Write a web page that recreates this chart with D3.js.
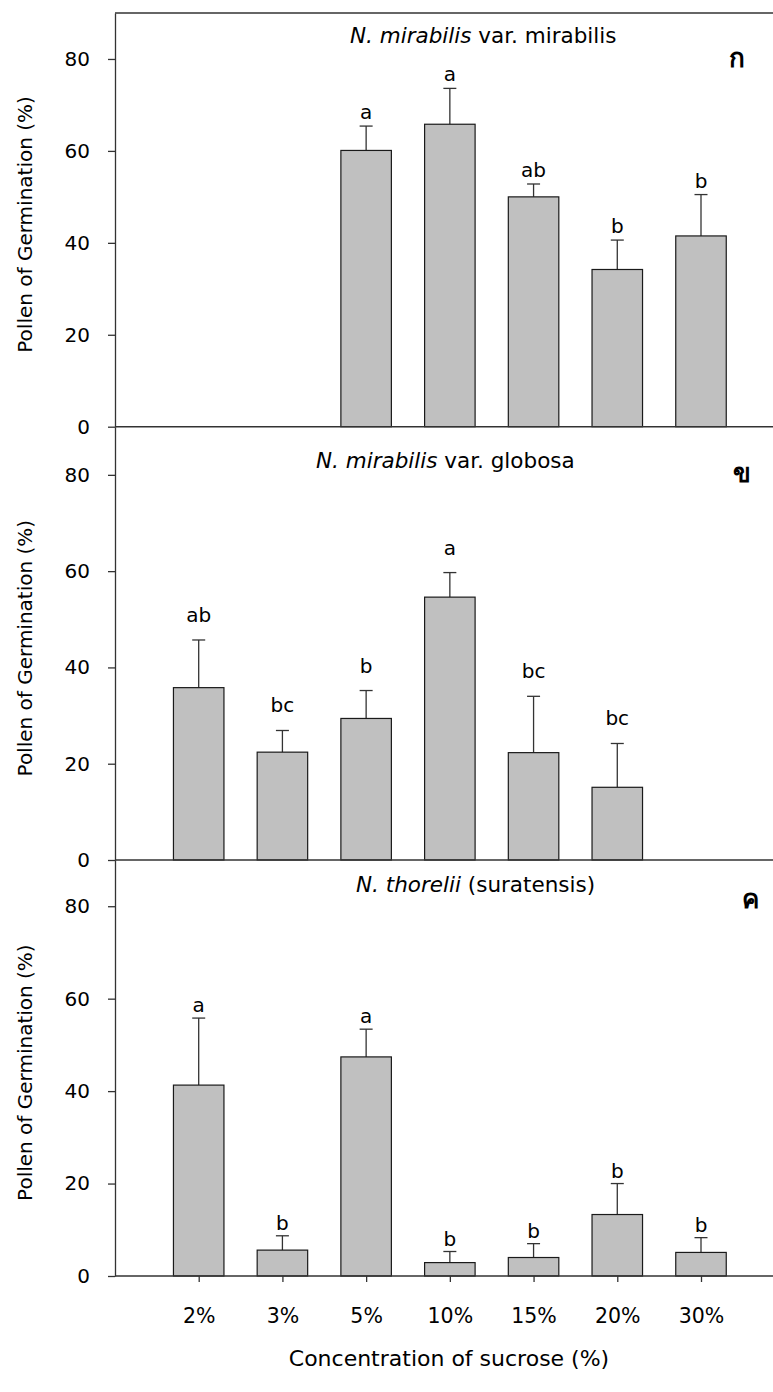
<!DOCTYPE html>
<html>
<head>
<meta charset="utf-8">
<script src="https://cdn.jsdelivr.net/npm/d3@7"></script>
<style>
    body { margin: 0; background: #fff; }
    text { font-family: "DejaVu Sans", Verdana, sans-serif; fill: #000; }
    .axis path, .axis line { stroke: #333; stroke-width: 1.3; }
    .bar { fill: #c0c0c0; stroke: #1a1a1a; stroke-width: 1.2; }
    .err { stroke: #333; stroke-width: 1.3; }
</style>
</head>
<body>
<div id="chart"></div>
<script>
// sucrose concentrations on the x axis
var categories = ["2%", "3%", "5%", "10%", "15%", "20%", "30%"];
var yTicks = [0, 20, 40, 60, 80];

// N. mirabilis var. mirabilis (no germination data for 2% and 3%)
var mirabilisMean = [null, null, 60.1, 65.8, 50.0, 34.2, 41.5];
var mirabilisErr = [null, null, 5.3, 7.8, 2.8, 6.4, 9.0];
var mirabilisLetters = ["", "", "a", "a", "ab", "b", "b"];

// N. mirabilis var. globosa (no data for 30%)
var globosaMean = [35.8, 22.4, 29.4, 54.6, 22.3, 15.1, null];
var globosaErr = [9.9, 4.5, 5.8, 5.1, 11.7, 9.1, null];
var globosaLetters = ["ab", "bc", "b", "a", "bc", "bc", ""];

// N. thorelii (suratensis)
var thoreliiMean = [41.3, 5.6, 47.4, 2.9, 4.0, 13.3, 5.1];
var thoreliiErr = [14.5, 3.1, 6.0, 2.4, 3.0, 6.7, 3.2];
var thoreliiLetters = ["a", "b", "a", "b", "b", "b", "b"];

var panelTitles = [
    {italic: "N. mirabilis", rest: " var. mirabilis", mark: "ก"},
    {italic: "N. mirabilis", rest: " var. globosa", mark: "ข"},
    {italic: "N. thorelii", rest: " (suratensis)", mark: "ค"}
];

var w = 773;
var h = 1392;
var left = 115;
// vertical extent of each panel
var panelTop = [13, 426.7, 860];
var panelBottom = [426.7, 860, 1276];
var titleX = [350, 316, 356];
var titleY = [43, 468, 892];
var markX = [737, 742, 750];
var markY = [67, 482, 908];
var letterGap = [7, 18, 6];

var svg = d3.select("#chart").append("svg").attr("width", w).attr("height", h);

var xScale = d3.scalePoint().domain(categories).range([198.7, 701]);
var barWidth = 50.5;
var capWidth = 13;

var panels = [
    {mean: mirabilisMean, err: mirabilisErr, letters: mirabilisLetters},
    {mean: globosaMean, err: globosaErr, letters: globosaLetters},
    {mean: thoreliiMean, err: thoreliiErr, letters: thoreliiLetters}
];

panels.forEach(function(p, i) {
    var yScale = d3.scaleLinear().domain([0, 90]).range([panelBottom[i], panelTop[i]]);
    var rows = categories.map(function(c, j) {
        return {cat: c, mean: p.mean[j], err: p.err[j], letter: p.letters[j]};
    }).filter(function(d) { return d.mean != null; });

    var g = svg.append("g");

    // error bars first so the bar outline sits on top
    g.selectAll(".err").data(rows).enter().append("line")
        .attr("class", "err")
        .attr("x1", function(d) { return xScale(d.cat); })
        .attr("x2", function(d) { return xScale(d.cat); })
        .attr("y1", function(d) { return yScale(d.mean); })
        .attr("y2", function(d) { return yScale(d.mean + d.err); });
    g.selectAll(".cap").data(rows).enter().append("line")
        .attr("class", "err")
        .attr("x1", function(d) { return xScale(d.cat) - capWidth / 2; })
        .attr("x2", function(d) { return xScale(d.cat) + capWidth / 2; })
        .attr("y1", function(d) { return yScale(d.mean + d.err); })
        .attr("y2", function(d) { return yScale(d.mean + d.err); });

    g.selectAll(".bar").data(rows).enter().append("rect")
        .attr("class", "bar")
        .attr("x", function(d) { return xScale(d.cat) - barWidth / 2; })
        .attr("width", barWidth)
        .attr("y", function(d) { return yScale(d.mean); })
        .attr("height", function(d) { return yScale(0) - yScale(d.mean); });

    // significance letters
    g.selectAll(".letter").data(rows).enter().append("text")
        .attr("x", function(d) { return xScale(d.cat); })
        .attr("y", function(d) { return yScale(d.mean + d.err) - letterGap[i]; })
        .attr("text-anchor", "middle")
        .style("font-size", "20px")
        .text(function(d) { return d.letter; });

    // baseline and top line
    g.append("line").attr("x1", left).attr("x2", w)
        .attr("y1", yScale(0)).attr("y2", yScale(0))
        .style("stroke", "#333").style("stroke-width", 1.5);
    if (i == 0) {
        g.append("line").attr("x1", left).attr("x2", w)
            .attr("y1", panelTop[i]).attr("y2", panelTop[i])
            .style("stroke", "#333").style("stroke-width", 1.3);
    }

    var yAxis = d3.axisLeft(yScale).tickValues(yTicks).tickSize(7).tickSizeOuter(0).tickPadding(18);
    g.append("g").attr("class", "axis").attr("transform", "translate(" + left + ",0)").call(yAxis)
        .selectAll("text").style("font-size", "20px").style("font-family", "DejaVu Sans");

    // y label
    g.append("text")
        .attr("text-anchor", "middle")
        .attr("transform", "translate(32," + yScale(44) + ") rotate(-90)")
        .style("font-size", "20px")
        .text("Pollen of Germination (%)");

    // panel title, species name in italics
    var t = g.append("text").attr("x", titleX[i]).attr("y", titleY[i]).style("font-size", "21.5px");
    t.append("tspan").style("font-style", "italic").text(panelTitles[i].italic);
    t.append("tspan").text(panelTitles[i].rest);

    g.append("text")
        .attr("x", markX[i]).attr("y", markY[i])
        .attr("text-anchor", "middle")
        .style("font-size", "26px").style("font-weight", "bold")
        .text(panelTitles[i].mark);

    if (i == 2) {
        var xAxis = d3.axisBottom(xScale).tickSize(6).tickSizeOuter(0).tickPadding(26);
        var xg = g.append("g").attr("class", "axis").attr("transform", "translate(0," + yScale(0) + ")").call(xAxis);
        xg.select(".domain").remove();
        xg.selectAll("text").style("font-size", "20.5px").style("font-family", "DejaVu Sans");
    }
});

svg.append("text")
    .attr("text-anchor", "middle")
    .attr("x", 449)
    .attr("y", 1366)
    .style("font-size", "22px")
    .text("Concentration of sucrose (%)");
</script>
</body>
</html>
